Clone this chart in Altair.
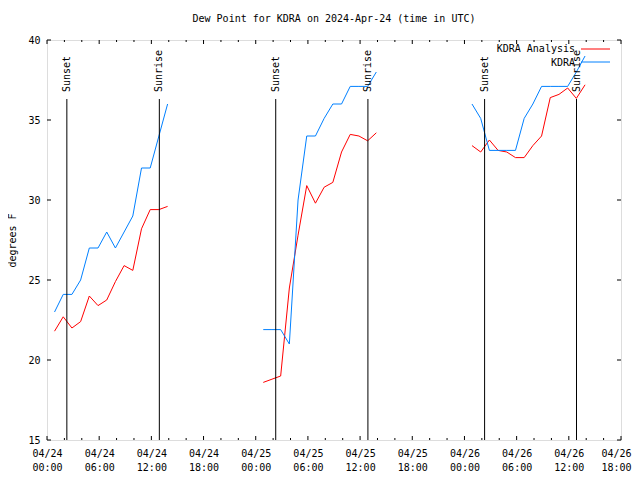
import altair as alt
import pandas as pd

# ---- data ----
days = ["2024-04-24", "2024-04-25", "2024-04-26"]
obs_times = ["00:52", "01:52", "02:52", "03:52", "04:52", "05:52", "06:52",
             "07:52", "08:52", "09:52", "10:52", "11:52", "12:52", "13:52"]

analysis_day1 = [21.8, 22.7, 22.0, 22.4, 24.0, 23.4, 23.75, 24.9, 25.9, 25.6, 28.2, 29.4, 29.4, 29.6]
analysis_day2 = [18.6, 18.8, 19.0, 24.5, 27.8, 30.9, 29.8, 30.8, 31.1, 33.0, 34.1, 34.0, 33.7, 34.2]
analysis_day3 = [33.4, 33.0, 33.75, 33.1, 33.0, 32.65, 32.65, 33.4, 34.0, 36.4, 36.6, 37.0, 36.35, 37.2]

kdra_day1 = [23.0, 24.1, 24.1, 25.0, 27.0, 27.0, 28.0, 27.0, 28.0, 29.0, 32.0, 32.0, 34.0, 36.0]
kdra_day2 = [21.9, 21.9, 21.9, 21.0, 30.0, 34.0, 34.0, 35.1, 36.0, 36.0, 37.1, 37.1, 37.1, 38.0]
kdra_day3 = [36.0, 35.1, 33.1, 33.1, 33.1, 33.1, 35.1, 36.0, 37.1, 37.1, 37.1, 37.1, 38.0, 39.0]

sun_times = ["2024-04-24T02:17:00Z", "2024-04-24T12:55:00Z",
             "2024-04-25T02:18:00Z", "2024-04-25T12:54:00Z",
             "2024-04-26T02:19:00Z", "2024-04-26T12:53:00Z"]
sun_labels = ["Sunset", "Sunrise", "Sunset", "Sunrise", "Sunset", "Sunrise"]

major_hours = ["00", "06", "12", "18"]
minor_hours = ["02", "04", "08", "10", "14", "16", "20", "22"]
y_ticks = [15, 20, 25, 30, 35, 40]

RED = "#ff0000"
BLUE = "#0080ff"
FONT = "DejaVu Sans Mono"

# ---- tables ----
rows = []
for i, (d, a, k) in enumerate(zip(days,
                                  [analysis_day1, analysis_day2, analysis_day3],
                                  [kdra_day1, kdra_day2, kdra_day3])):
    for t, av, kv in zip(obs_times, a, k):
        rows.append({"time": f"{d}T{t}:00Z", "value": av, "series": "KDRA Analysis", "seg": i})
        rows.append({"time": f"{d}T{t}:00Z", "value": kv, "series": "KDRA", "seg": i})
df = pd.DataFrame(rows)
df_a = df[df.series == "KDRA Analysis"]
df_k = df[df.series == "KDRA"]

sun_df = pd.DataFrame({"time": sun_times, "label": sun_labels})

major_df = pd.DataFrame({"time": [f"{d}T{h}:00:00Z" for d in days for h in major_hours]})
minor_df = pd.DataFrame({"time": [f"{d}T{h}:00:00Z" for d in days for h in minor_hours
                                  if not (d == days[-1] and h > "18")]})
ytick_df = pd.DataFrame({"v": y_ticks})

W, H = 574, 400

xscale = alt.Scale(type="utc",
                   domain=[alt.DateTime(year=2024, month=4, date=24, hours=0, utc=True),
                           alt.DateTime(year=2024, month=4, date=26, hours=18, utc=True)])
yscale = alt.Scale(domain=[15, 40], nice=False, zero=False)

major_vals = [alt.DateTime(year=2024, month=4, date=24 + i // 4, hours=(i % 4) * 6, utc=True)
              for i in range(12)]

xaxis = alt.Axis(values=major_vals, title=None, grid=False, ticks=False, domain=False,
                 labelExpr="[utcFormat(datum.value, '%m/%d'), utcFormat(datum.value, '%H:%M')]",
                 labelFont=FONT, labelFontSize=10, labelColor="black", labelPadding=8,
                 labelFlush=False, labelOverlap=False, labelLineHeight=14,
                 labelOffset={"condition": {"test": "utcFormat(datum.value, '%d %H') == '26 18'",
                                            "value": -5},
                              "value": 0})
yaxis = alt.Axis(values=y_ticks, title="degrees F", grid=False, ticks=False, domain=False,
                 labelFont=FONT, labelFontSize=10, labelColor="black", labelPadding=7,
                 titleFont=FONT, titleFontSize=10, titleFontWeight="normal", titleColor="black",
                 titlePadding=10)

base_a = alt.Chart(df_a).mark_line(color=RED, strokeWidth=1).encode(
    x=alt.X("time:T", scale=xscale, axis=xaxis),
    y=alt.Y("value:Q", scale=yscale, axis=yaxis),
    detail="seg:N",
)
base_k = alt.Chart(df_k).mark_line(color=BLUE, strokeWidth=1).encode(
    x=alt.X("time:T", scale=xscale),
    y=alt.Y("value:Q", scale=yscale),
    detail="seg:N",
)

sun_rules = alt.Chart(sun_df).mark_rule(color="black", strokeWidth=1).encode(
    x=alt.X("time:T", scale=xscale), y=alt.value(59), y2=alt.value(H))
sun_text = alt.Chart(sun_df).mark_text(angle=270, align="left", baseline="middle",
                                       font=FONT, fontSize=10, color="black").encode(
    x=alt.X("time:T", scale=xscale), y=alt.value(52), text="label:N")

tick_major_b = alt.Chart(major_df).mark_rule(color="black").encode(
    x=alt.X("time:T", scale=xscale), y=alt.value(H), y2=alt.value(H - 4))
tick_major_t = alt.Chart(major_df).mark_rule(color="black").encode(
    x=alt.X("time:T", scale=xscale), y=alt.value(0), y2=alt.value(4))
tick_minor_b = alt.Chart(minor_df).mark_rule(color="black").encode(
    x=alt.X("time:T", scale=xscale), y=alt.value(H), y2=alt.value(H - 2))
tick_minor_t = alt.Chart(minor_df).mark_rule(color="black").encode(
    x=alt.X("time:T", scale=xscale), y=alt.value(0), y2=alt.value(2))
ytick_l = alt.Chart(ytick_df).mark_rule(color="black").encode(
    y=alt.Y("v:Q", scale=yscale), x=alt.value(0), x2=alt.value(4))
ytick_r = alt.Chart(ytick_df).mark_rule(color="black").encode(
    y=alt.Y("v:Q", scale=yscale), x=alt.value(W), x2=alt.value(W - 4))

one = pd.DataFrame({"a": [0]})
leg_t1 = alt.Chart(one).mark_text(align="right", baseline="middle", font=FONT, fontSize=10,
                                  color="black").encode(
    x=alt.value(528), y=alt.value(9), text=alt.value("KDRA Analysis"))
leg_t2 = alt.Chart(one).mark_text(align="right", baseline="middle", font=FONT, fontSize=10,
                                  color="black").encode(
    x=alt.value(528), y=alt.value(23), text=alt.value("KDRA"))
leg_l1 = alt.Chart(one).mark_rule(color=RED, strokeWidth=1).encode(
    x=alt.value(534), x2=alt.value(563), y=alt.value(9))
leg_l2 = alt.Chart(one).mark_rule(color=BLUE, strokeWidth=1).encode(
    x=alt.value(534), x2=alt.value(563), y=alt.value(22))

chart = alt.layer(
    base_a, base_k, sun_rules, sun_text,
    tick_major_b, tick_major_t, tick_minor_b, tick_minor_t, ytick_l, ytick_r,
    leg_t1, leg_t2, leg_l1, leg_l2,
).properties(
    width=W, height=H,
    title=alt.TitleParams("Dew Point for KDRA on 2024-Apr-24 (time in UTC)",
                          font=FONT, fontSize=10, fontWeight="normal", color="black",
                          anchor="middle", offset=11),
    autosize=alt.AutoSizeParams(type="none"),
    padding={"left": 39, "top": 32, "right": 11, "bottom": 32},
).configure_view(stroke="black", strokeWidth=1).configure(background="white")

chart.save("out.html", embed_options={"renderer": "svg", "actions": False})
